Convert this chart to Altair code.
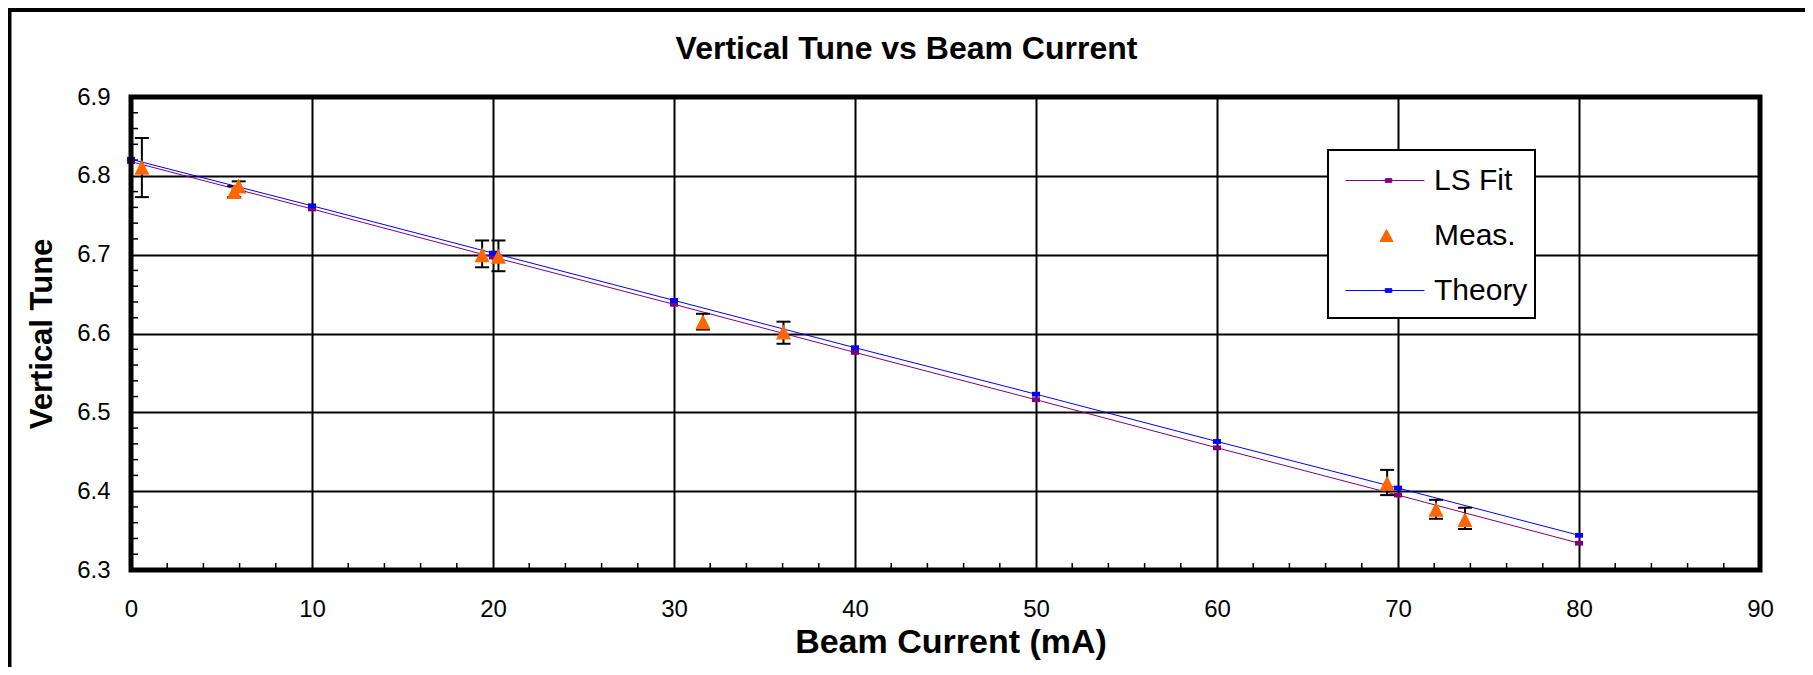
import altair as alt
import pandas as pd

# ---------------- data ----------------
fit_x = [0, 10, 20, 30, 40, 50, 60, 70, 80]
fit_y = [6.818, 6.758, 6.697, 6.637, 6.576, 6.516, 6.455, 6.395, 6.334]

theory_x = [0, 10, 20, 30, 40, 50, 60, 70, 80]
theory_y = [6.821, 6.762, 6.702, 6.642, 6.582, 6.523, 6.463, 6.404, 6.344]

meas_x = [0.6, 5.7, 5.95, 19.4, 20.3, 31.6, 36.05, 69.4, 72.1, 73.7]
meas_y = [6.811, 6.780, 6.787, 6.700, 6.698, 6.615, 6.602, 6.410, 6.377, 6.364]
meas_lo = [6.773, 6.773, 6.780, 6.684, 6.679, 6.605, 6.587, 6.395, 6.365, 6.352]
meas_hi = [6.848, 6.787, 6.793, 6.718, 6.718, 6.625, 6.615, 6.427, 6.389, 6.379]

x_ticks = [0, 10, 20, 30, 40, 50, 60, 70, 80, 90]
y_ticks = [6.3, 6.4, 6.5, 6.6, 6.7, 6.8, 6.9]
x_minor = [2, 4, 6, 8, 12, 14, 16, 18, 22, 24, 26, 28, 32, 34, 36, 38, 42, 44, 46, 48,
           52, 54, 56, 58, 62, 64, 66, 68, 72, 74, 76, 78, 82, 84, 86, 88]
y_minor = [6.32, 6.34, 6.36, 6.38, 6.42, 6.44, 6.46, 6.48, 6.52, 6.54, 6.56, 6.58,
           6.62, 6.64, 6.66, 6.68, 6.72, 6.74, 6.76, 6.78, 6.82, 6.84, 6.86, 6.88]

series_names = ["LS Fit", "Meas.", "Theory"]
series_colors = ["#800080", "#FF6600", "#0000FF"]

TITLE = "Vertical Tune vs Beam Current"
X_TITLE = "Beam Current (mA)"
Y_TITLE = "Vertical Tune"

FONT = "Liberation Sans"
W, H = 1629, 473

# ---------------- tables ----------------
fit_df = pd.DataFrame({"x": fit_x, "y": fit_y})
theory_df = pd.DataFrame({"x": theory_x, "y": theory_y})
meas_df = pd.DataFrame({"x": meas_x, "y": meas_y, "lo": meas_lo, "hi": meas_hi})
xminor_df = pd.DataFrame({"x": x_minor})
yminor_df = pd.DataFrame({"y": y_minor})
one_df = pd.DataFrame({"d": [0]})
legend_df = pd.DataFrame({"series": series_names})

xscale = alt.Scale(domain=[0, 90], nice=False, zero=False)
yscale = alt.Scale(domain=[6.3, 6.9], nice=False, zero=False)

x_axis = alt.Axis(
    values=x_ticks, format="d", title=X_TITLE, grid=True, gridColor="black", gridWidth=2,
    gridOpacity=1, domain=False, ticks=False, labelFontSize=24, labelFont=FONT,
    labelColor="black", labelPadding=27, labelFlush=False, labelOverlap=False,
    titleFont=FONT, titleFontSize=34, titleFontWeight="bold", titleColor="black",
    titleX=W / 2 + 5, titleY=72, titleAlign="center", titleBaseline="middle",
)
y_axis = alt.Axis(
    values=y_ticks, format=".1f", title=Y_TITLE, grid=True, gridColor="black", gridWidth=2,
    gridOpacity=1, domain=False, ticks=False, labelFontSize=24, labelFont=FONT,
    labelColor="black", labelPadding=21, labelFlush=False, labelOverlap=False,
    titleFont=FONT, titleFontSize=31, titleFontWeight="bold", titleColor="black",
    titleX=-89, titleY=H / 2, titleAngle=270, titleAlign="center", titleBaseline="middle",
)


def X(field="x"):
    return alt.X(field, type="quantitative", scale=xscale, axis=x_axis)


def Y(field="y"):
    return alt.Y(field, type="quantitative", scale=yscale, axis=y_axis)


RECT_PATH = "M-1,-0.6H1V0.6H-1Z"
TRI_PATH = "M0,-1L1,1L-1,1Z"
CAP_PATH = "M-1,0H1"

# outer chart frame
outer = alt.Chart(one_df).mark_rect(fill="white", fillOpacity=0, stroke="black", strokeWidth=4).encode(
    x=alt.value(-121.5), x2=alt.value(1678), y=alt.value(-87), y2=alt.value(H + 120)
)

# minor ticks
xminor = alt.Chart(xminor_df).mark_rule(color="black", strokeWidth=1.5).encode(
    x=X("x"), y=alt.value(H), y2=alt.value(H - 7)
)
yminor = alt.Chart(yminor_df).mark_rule(color="black", strokeWidth=1.5).encode(
    y=Y("y"), x=alt.value(0), x2=alt.value(7)
)

fit_line = alt.Chart(fit_df).mark_line(color=series_colors[0], strokeWidth=1).encode(x=X(), y=Y())
theory_line = alt.Chart(theory_df).mark_line(color=series_colors[2], strokeWidth=1).encode(x=X(), y=Y())
fit_pts = alt.Chart(fit_df).mark_point(
    shape=RECT_PATH, size=64, filled=True, color=series_colors[0], opacity=1, strokeWidth=0
).encode(x=X(), y=Y())
theory_pts = alt.Chart(theory_df).mark_point(
    shape=RECT_PATH, size=64, filled=True, color=series_colors[2], opacity=1, strokeWidth=0
).encode(x=X(), y=Y())

err_bar = alt.Chart(meas_df).mark_rule(color="black", strokeWidth=2).encode(
    x=X(), y=Y("lo"), y2="hi"
)
cap_lo = alt.Chart(meas_df).mark_point(
    shape=CAP_PATH, size=196, filled=False, stroke="black", strokeWidth=2, opacity=1
).encode(x=X(), y=Y("lo"))
cap_hi = alt.Chart(meas_df).mark_point(
    shape=CAP_PATH, size=196, filled=False, stroke="black", strokeWidth=2, opacity=1
).encode(x=X(), y=Y("hi"))
meas_pts = alt.Chart(meas_df).mark_point(
    shape=TRI_PATH, size=225, filled=True, color=series_colors[1], opacity=1, strokeWidth=0
).encode(x=X(), y=Y())

# plot-area border (thick)
plot_border = alt.Chart(one_df).mark_rect(fill="white", fillOpacity=0, stroke="black", strokeWidth=5).encode(
    x=alt.value(0), x2=alt.value(W), y=alt.value(0), y2=alt.value(H)
)

# legend frame
legend_box = alt.Chart(one_df).mark_rect(fill="white", stroke="black", strokeWidth=2).encode(
    x=alt.value(1197), x2=alt.value(1404), y=alt.value(53), y2=alt.value(221)
)

legend_paths = [
    "M-0.49,0H2.38M0.953,-0.067H1.193V0.067H0.953Z",
    "M1,-0.218L1.236,0.218L0.764,0.218Z",
    "M-0.49,0H2.38M0.953,-0.067H1.193V0.067H0.953Z",
]
leg = alt.Legend(
    title=None, orient="none", legendX=1200, legendY=55.5, padding=0, rowPadding=12,
    symbolSize=3025, symbolStrokeWidth=1, labelOffset=47, labelFontSize=30,
    labelFont=FONT, labelColor="black", labelLimit=400, direction="vertical",
)
legend_layer = alt.Chart(legend_df).mark_point(opacity=1, strokeWidth=1, filled=True).encode(
    fill=alt.Fill("series:N", scale=alt.Scale(domain=series_names, range=series_colors), legend=leg),
    stroke=alt.Stroke("series:N", scale=alt.Scale(domain=series_names, range=series_colors), legend=leg),
    shape=alt.Shape("series:N", scale=alt.Scale(domain=series_names, range=legend_paths), legend=leg),
).transform_filter("false")

chart = alt.layer(
    outer, xminor, yminor, fit_line, theory_line, fit_pts, theory_pts,
    err_bar, cap_lo, cap_hi, meas_pts, plot_border, legend_box, legend_layer
).properties(
    width=W, height=H,
    title=alt.TitleParams(
        TITLE, font=FONT, fontSize=32, fontWeight="bold", color="black",
        anchor="middle", frame="group", dx=-39, offset=0, dy=58,
    ),
    padding={"left": 123, "top": 89, "right": 45, "bottom": 97},
    autosize=alt.AutoSizeParams(type="none"),
    background="white",
).configure_view(
    stroke="black", strokeWidth=5
).configure(font=FONT)

chart.save("out.html", embed_options={"renderer": "svg", "actions": False})
